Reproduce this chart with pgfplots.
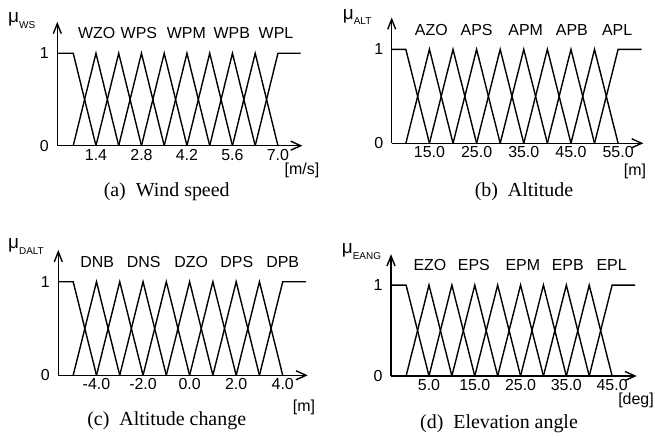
\documentclass[border=0pt]{standalone}
\usepackage{pgfplots}
\pgfplotsset{compat=1.18}
\usepackage{fontspec}
\setmainfont{Liberation Serif}
\newfontfamily\lab{Liberation Sans}

\newcommand{\labfont}{\lab\fontsize{16}{16}\selectfont}
\newcommand{\capfont}{\fontsize{20}{20}\selectfont}
\newcommand{\mulabel}[1]{\lab{\fontsize{19}{19}\selectfont μ}\raisebox{-5.5bp}{\fontsize{10}{10}\selectfont #1}}

% common look of a membership-function panel
\pgfplotsset{
  mf/.style={
    scale only axis, clip=false,
    anchor=south west,
    axis lines=left,
    axis line style={line width=1.4bp, -},
    ymin=0, ymax=1.32,
    ytick={0,1}, yticklabels={0,1},
    major tick length=0pt,
    tick label style={font=\labfont},
    yticklabel style={xshift=-5bp},
    every axis plot post/.append style={black, solid, line width=1.4bp, mark=none},
  },
}

\begin{document}
\begin{tikzpicture}
\useasboundingbox (0bp,0bp) rectangle (655bp,437bp);

% (a) wind speed
\begin{axis}[mf, at={(57.3bp,291.3bp)}, width=243.4bp, height=122bp,
  xmin=0.21, xmax=7.7,
  xtick={1.4,2.8,4.2,5.6,7.0}, xticklabels={1.4,2.8,4.2,5.6,7.0}]
\addplot coordinates {(0.21,1) (0.7,1) (1.4,0)};
\addplot coordinates {(0.7,0) (1.4,1) (2.1,0)};
\addplot coordinates {(1.4,0) (2.1,1) (2.8,0)};
\addplot coordinates {(2.1,0) (2.8,1) (3.5,0)};
\addplot coordinates {(2.8,0) (3.5,1) (4.2,0)};
\addplot coordinates {(3.5,0) (4.2,1) (4.9,0)};
\addplot coordinates {(4.2,0) (4.9,1) (5.6,0)};
\addplot coordinates {(4.9,0) (5.6,1) (6.3,0)};
\addplot coordinates {(5.6,0) (6.3,1) (7.0,0)};
\addplot coordinates {(6.3,0) (7.0,1) (7.7,1)};
% arrow heads of the axes
\addplot coordinates {(7.392,0.0487) (7.7,0) (7.392,-0.0487)};
\addplot coordinates {(0.087,1.212) (0.21,1.32) (0.333,1.212)};
\node[font=\labfont] at (axis cs:1.42,1.217) {WZO};
\node[font=\labfont] at (axis cs:2.72,1.217) {WPS};
\node[font=\labfont] at (axis cs:4.18,1.217) {WPM};
\node[font=\labfont] at (axis cs:5.58,1.217) {WPB};
\node[font=\labfont] at (axis cs:6.94,1.217) {WPL};
\end{axis}

% (b) altitude
\begin{axis}[mf, at={(391.7bp,293.7bp)}, width=250bp, height=124bp,
  xmin=7, xmax=60,
  xtick={15,25,35,45,55}, xticklabels={15.0,25.0,35.0,45.0,55.0}]
\addplot coordinates {(7,1) (10,1) (15,0)};
\addplot coordinates {(10,0) (15,1) (20,0)};
\addplot coordinates {(15,0) (20,1) (25,0)};
\addplot coordinates {(20,0) (25,1) (30,0)};
\addplot coordinates {(25,0) (30,1) (35,0)};
\addplot coordinates {(30,0) (35,1) (40,0)};
\addplot coordinates {(35,0) (40,1) (45,0)};
\addplot coordinates {(40,0) (45,1) (50,0)};
\addplot coordinates {(45,0) (50,1) (55,0)};
\addplot coordinates {(50,0) (55,1) (60,1)};
% arrow heads of the axes
\addplot coordinates {(57.88,0.0479) (60,0) (57.88,-0.0479)};
\addplot coordinates {(6.152,1.2135) (7,1.32) (7.848,1.2135)};
\node[font=\labfont] at (axis cs:15.4,1.21) {AZO};
\node[font=\labfont] at (axis cs:25.0,1.21) {APS};
\node[font=\labfont] at (axis cs:35.4,1.21) {APM};
\node[font=\labfont] at (axis cs:45.2,1.21) {APB};
\node[font=\labfont] at (axis cs:54.8,1.21) {APL};
\end{axis}

% (c) altitude change
\begin{axis}[mf, at={(58.3bp,61.7bp)}, width=247.7bp, height=123.5bp,
  xmin=-5.64, xmax=5,
  xtick={-4,-2,0,2,4}, xticklabels={-4.0,-2.0,0.0,2.0,4.0}]
\addplot coordinates {(-5.64,1) (-5,1) (-4,0)};
\addplot coordinates {(-5,0) (-4,1) (-3,0)};
\addplot coordinates {(-4,0) (-3,1) (-2,0)};
\addplot coordinates {(-3,0) (-2,1) (-1,0)};
\addplot coordinates {(-2,0) (-1,1) (0,0)};
\addplot coordinates {(-1,0) (0,1) (1,0)};
\addplot coordinates {(0,0) (1,1) (2,0)};
\addplot coordinates {(1,0) (2,1) (3,0)};
\addplot coordinates {(2,0) (3,1) (4,0)};
\addplot coordinates {(3,0) (4,1) (5,1)};
% arrow heads of the axes
\addplot coordinates {(4.570,0.0481) (5,0) (4.570,-0.0481)};
\addplot coordinates {(-5.812,1.2131) (-5.64,1.32) (-5.468,1.2131)};
\node[font=\labfont] at (axis cs:-3.97,1.21) {DNB};
\node[font=\labfont] at (axis cs:-1.97,1.21) {DNS};
\node[font=\labfont] at (axis cs:0.07,1.21) {DZO};
\node[font=\labfont] at (axis cs:2.03,1.21) {DPS};
\node[font=\labfont] at (axis cs:4.0,1.21) {DPB};
\end{axis}

% (d) elevation angle
\begin{axis}[mf, at={(391bp,61bp)}, width=244bp, height=120bp,
  xmin=-3.3, xmax=50,
  xtick={5,15,25,35,45}, xticklabels={5.0,15.0,25.0,35.0,45.0}]
\addplot coordinates {(-3.3,1) (0,1) (5,0)};
\addplot coordinates {(0,0) (5,1) (10,0)};
\addplot coordinates {(5,0) (10,1) (15,0)};
\addplot coordinates {(10,0) (15,1) (20,0)};
\addplot coordinates {(15,0) (20,1) (25,0)};
\addplot coordinates {(20,0) (25,1) (30,0)};
\addplot coordinates {(25,0) (30,1) (35,0)};
\addplot coordinates {(30,0) (35,1) (40,0)};
\addplot coordinates {(35,0) (40,1) (45,0)};
\addplot coordinates {(40,0) (45,1) (50,1)};
% arrow heads of the axes
\addplot coordinates {(47.816,0.0495) (50,0) (47.816,-0.0495)};
\addplot coordinates {(-4.174,1.21) (-3.3,1.32) (-2.426,1.21)};
\node[font=\labfont] at (axis cs:5.2,1.22) {EZO};
\node[font=\labfont] at (axis cs:14.8,1.22) {EPS};
\node[font=\labfont] at (axis cs:25.5,1.22) {EPM};
\node[font=\labfont] at (axis cs:35.3,1.22) {EPB};
\node[font=\labfont] at (axis cs:44.9,1.22) {EPL};
\end{axis}

% membership degree symbols
\node[anchor=base west, inner sep=0] at (8bp,414bp) {\mulabel{WS}};
\node[anchor=base west, inner sep=0] at (342.7bp,417.7bp) {\mulabel{ALT}};
\node[anchor=base west, inner sep=0] at (8bp,188bp) {\mulabel{DALT}};
\node[anchor=base west, inner sep=0] at (341.7bp,183bp) {\mulabel{EANG}};

% units
\node[font=\labfont] at (302bp,267bp) {[m/s]};
\node[font=\labfont] at (635bp,265.3bp) {[m]};
\node[font=\labfont] at (304bp,30bp) {[m]};
\node[font=\labfont] at (636bp,37bp) {[deg]};

% sub-captions
\node[anchor=base, font=\capfont] at (166.7bp,240.3bp) {(a)\ \ Wind speed};
\node[anchor=base, font=\capfont] at (524bp,240.3bp) {(b)\ \ Altitude};
\node[anchor=base, font=\capfont] at (166.7bp,12bp) {(c)\ \ Altitude change};
\node[anchor=base, font=\capfont] at (499bp,8.7bp) {(d)\ \ Elevation angle};
\end{tikzpicture}
\end{document}
